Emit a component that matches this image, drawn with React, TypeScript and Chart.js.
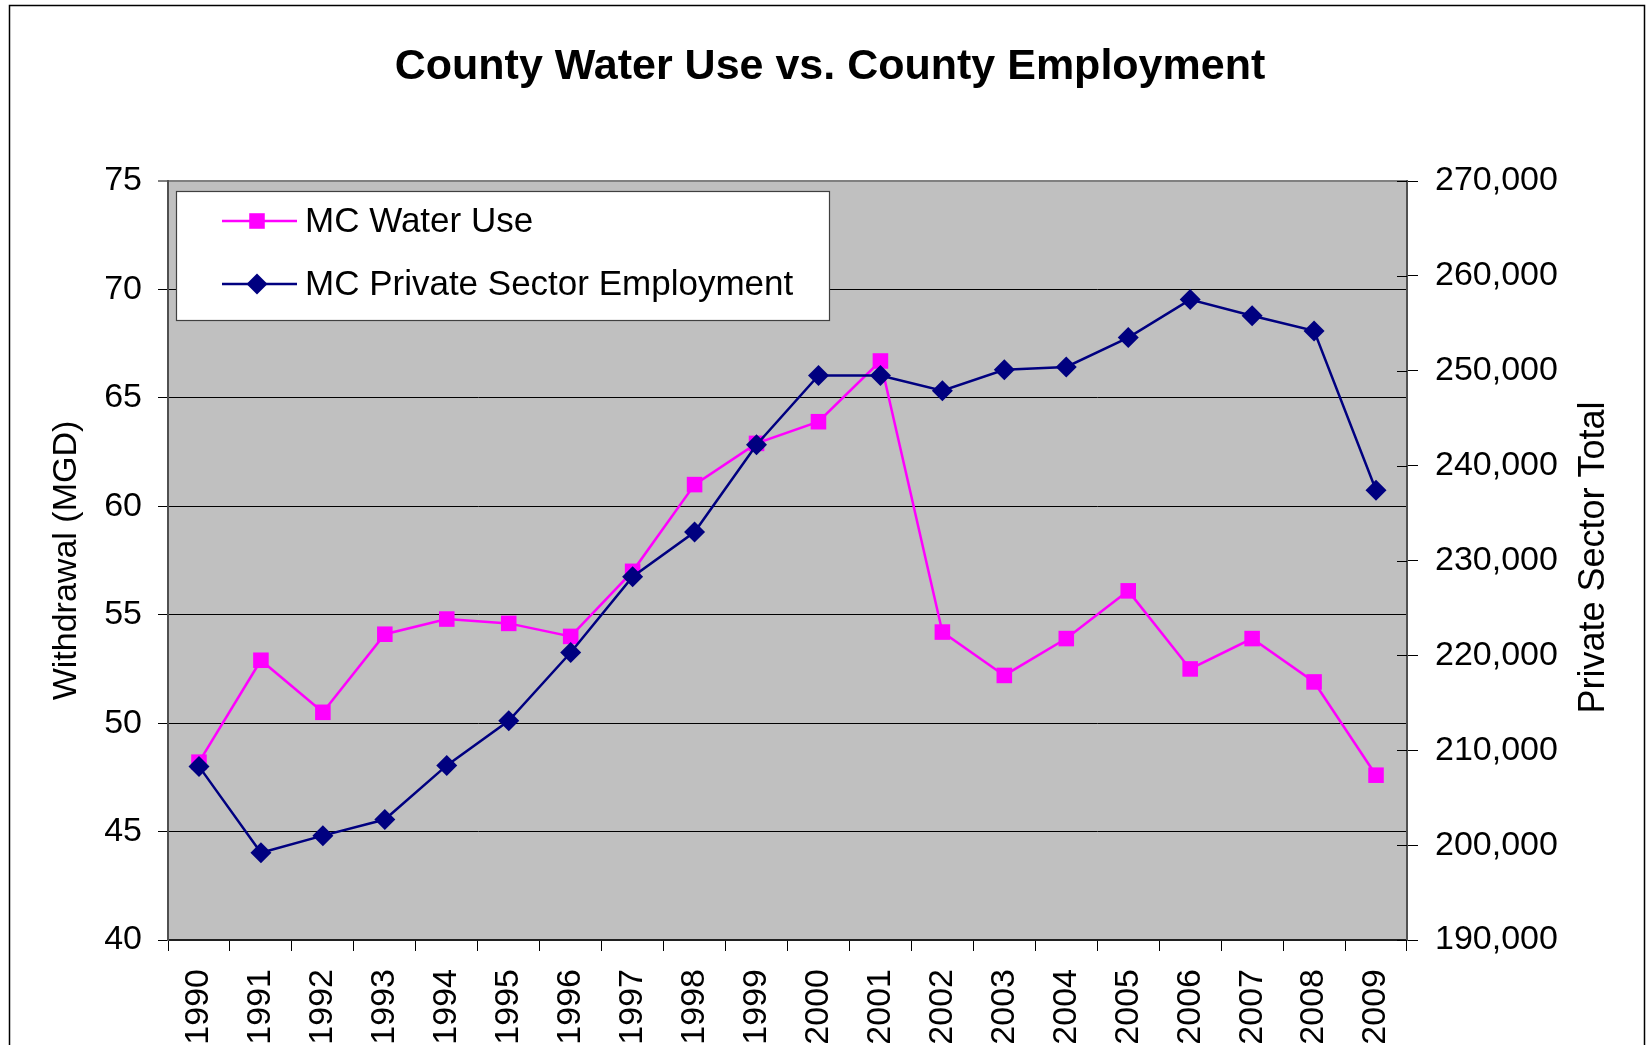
import React, { useEffect, useRef } from 'react';
import { Chart, registerables } from 'chart.js';

Chart.register(...registerables);

// ---- Data ----
const years = ['1990', '1991', '1992', '1993', '1994', '1995', '1996', '1997', '1998', '1999',
  '2000', '2001', '2002', '2003', '2004', '2005', '2006', '2007', '2008', '2009'];
const waterUse = [48.2, 52.9, 50.5, 54.1, 54.8, 54.6, 54.0, 57.0, 61.0, 62.9,
  63.9, 66.7, 54.2, 52.2, 53.9, 56.1, 52.5, 53.9, 51.9, 47.6];
const employment = [208300, 199200, 201000, 202700, 208400, 213100, 220300, 228300, 233000, 242200,
  249500, 249500, 247900, 250100, 250400, 253500, 257500, 255800, 254200, 237400];
const leftAxis = { min: 40, max: 75, step: 5 };
const rightAxis = { min: 190000, max: 270000, step: 10000 };
const titleText = 'County Water Use vs. County Employment';
const leftTitle = 'Withdrawal (MGD)';
const rightTitle = 'Private Sector Total';
const seriesNames = ['MC Water Use', 'MC Private Sector Employment'];

const FONT = "'Liberation Sans', Arial, sans-serif";
const MAGENTA = '#FF00FF';
const NAVY = '#000080';
const W = 1646;
const H = 1100;
const PAD_LEFT = 14;

function drawMarker(ctx: CanvasRenderingContext2D, style: string, x: number, y: number, r: number, color: string) {
  ctx.save();
  ctx.fillStyle = color;
  ctx.beginPath();
  if (style === 'rect') {
    const s = Math.SQRT1_2 * r;
    ctx.rect(x - s, y - s, 2 * s, 2 * s);
  } else {
    ctx.moveTo(x - r, y);
    ctx.lineTo(x, y - r);
    ctx.lineTo(x + r, y);
    ctx.lineTo(x, y + r);
    ctx.closePath();
  }
  ctx.fill();
  ctx.restore();
}

const plotBg = {
  id: 'plotBg',
  beforeDraw(chart: any) {
    const { ctx, chartArea: a } = chart;
    ctx.save();
    ctx.fillStyle = '#C0C0C0';
    ctx.fillRect(a.left, a.top, a.right - a.left, a.bottom - a.top);
    ctx.restore();
  },
};

const extras = {
  id: 'extras',
  afterDraw(chart: any) {
    const { ctx, chartArea: a } = chart;
    ctx.save();
    // outer frame
    ctx.strokeStyle = '#000000';
    ctx.lineWidth = 1.5;
    ctx.strokeRect(9.5, 5.5, 1635, 1300);

    // inward right-axis tick marks
    const y1 = chart.scales.y1;
    ctx.lineWidth = 1;
    ctx.strokeStyle = '#000000';
    for (let v = rightAxis.min; v <= rightAxis.max; v += rightAxis.step) {
      const py = Math.round(y1.getPixelForValue(v)) + 0.5;
      ctx.beginPath();
      ctx.moveTo(a.right - 10, py);
      ctx.lineTo(a.right, py);
      ctx.stroke();
    }

    // right axis title (reads bottom-to-top)
    ctx.fillStyle = '#000000';
    ctx.font = `36px ${FONT}`;
    ctx.textAlign = 'center';
    ctx.textBaseline = 'middle';
    ctx.translate(1594, (a.top + a.bottom) / 2 - 3);
    ctx.rotate(-Math.PI / 2);
    ctx.fillText(rightTitle, 0, 0);
    ctx.restore();

    // legend box
    ctx.save();
    const lx = 176.5, ly = 191.5, lw = 653, lh = 129;
    ctx.fillStyle = '#FFFFFF';
    ctx.fillRect(lx, ly, lw, lh);
    ctx.strokeStyle = '#404040';
    ctx.lineWidth = 1.2;
    ctx.strokeRect(lx, ly, lw, lh);
    const rows = [
      { name: seriesNames[0], color: MAGENTA, style: 'rect', r: 11, y: 221 },
      { name: seriesNames[1], color: NAVY, style: 'rectRot', r: 10.5, y: 284 },
    ];
    ctx.font = `35px ${FONT}`;
    ctx.textAlign = 'left';
    ctx.textBaseline = 'middle';
    for (const row of rows) {
      ctx.strokeStyle = row.color;
      ctx.lineWidth = 2.5;
      ctx.beginPath();
      ctx.moveTo(222, row.y);
      ctx.lineTo(297, row.y);
      ctx.stroke();
      drawMarker(ctx, row.style, 257, row.y, row.r, row.color);
      ctx.fillStyle = '#000000';
      ctx.fillText(row.name, 305, row.y + 1);
    }
    ctx.restore();
  },
};

export default function App() {
  const ref = useRef<HTMLCanvasElement | null>(null);

  useEffect(() => {
    if (!ref.current) return;
    Chart.defaults.color = '#000000';
    Chart.defaults.font.family = FONT;
    const chart = new Chart(ref.current, {
      type: 'line',
      data: {
        labels: years,
        datasets: [
          {
            label: seriesNames[0],
            data: waterUse,
            yAxisID: 'y',
            borderColor: MAGENTA,
            backgroundColor: MAGENTA,
            borderWidth: 2.5,
            pointStyle: 'rect',
            pointRadius: 11,
            pointBorderWidth: 0,
            pointBackgroundColor: MAGENTA,
            tension: 0,
            order: 2,
          },
          {
            label: seriesNames[1],
            data: employment,
            yAxisID: 'y1',
            borderColor: NAVY,
            backgroundColor: NAVY,
            borderWidth: 2.5,
            pointStyle: 'rectRot',
            pointRadius: 10.5,
            pointBorderWidth: 0,
            pointBackgroundColor: NAVY,
            tension: 0,
            order: 1,
          },
        ],
      },
      options: {
        responsive: false,
        animation: false,
        devicePixelRatio: 1,
        layout: { padding: { left: PAD_LEFT, top: 0, right: 0, bottom: 0 } },
        plugins: {
          legend: { display: false },
          tooltip: { enabled: false },
          title: {
            display: true,
            text: titleText,
            color: '#000000',
            font: { size: 43, weight: 'bold', family: FONT, lineHeight: 1.2 },
            padding: { top: 41, bottom: 88.4 },
          },
        },
        scales: {
          x: {
            type: 'category',
            offset: true,
            grid: {
              offset: true,
              drawOnChartArea: false,
              drawTicks: true,
              tickLength: 11,
              tickColor: '#000000',
              tickWidth: 1,
            },
            border: { display: true, color: '#202020', width: 2 },
            ticks: {
              autoSkip: false,
              minRotation: 90,
              maxRotation: 90,
              padding: 18,
              color: '#000000',
              font: { size: 34, family: FONT },
            },
            afterFit(scale: any) {
              scale.height = 160;
            },
          },
          y: {
            type: 'linear',
            position: 'left',
            min: leftAxis.min,
            max: leftAxis.max,
            grid: {
              color: (c: any) => (c.tick && c.tick.value === leftAxis.max ? '#808080' : '#000000'),
              lineWidth: (c: any) => (c.tick && c.tick.value === leftAxis.max ? 2 : 1),
              drawTicks: true,
              tickLength: 10,
              tickColor: '#000000',
              tickWidth: 1,
            },
            border: { display: true, color: '#505050', width: 2 },
            ticks: {
              stepSize: leftAxis.step,
              padding: 16,
              color: '#000000',
              font: { size: 34, family: FONT },
            },
            title: {
              display: true,
              text: leftTitle,
              color: '#000000',
              font: { size: 34, family: FONT, lineHeight: 1.2 },
              padding: { top: 46 - PAD_LEFT, bottom: 0 },
            },
            afterFit(scale: any) {
              scale.width = 168 - PAD_LEFT;
            },
          },
          y1: {
            type: 'linear',
            position: 'right',
            min: rightAxis.min,
            max: rightAxis.max,
            grid: {
              drawOnChartArea: false,
              drawTicks: true,
              tickLength: 11,
              tickColor: '#000000',
              tickWidth: 1,
            },
            border: { display: true, color: '#505050', width: 2 },
            ticks: {
              stepSize: rightAxis.step,
              padding: 17,
              color: '#000000',
              font: { size: 34, family: FONT },
              callback: (v: any) => Number(v).toLocaleString('en-US'),
            },
            afterFit(scale: any) {
              scale.width = W - 1407;
            },
          },
        },
      },
      plugins: [plotBg, extras],
    } as any);
    return () => chart.destroy();
  }, []);

  return (
    <div style={{ position: 'fixed', left: 0, top: 0, width: W, height: 1045, overflow: 'hidden', background: '#FFFFFF' }}>
      <canvas ref={ref} width={W} height={H} style={{ width: W, height: H, display: 'block' }} />
    </div>
  );
}
